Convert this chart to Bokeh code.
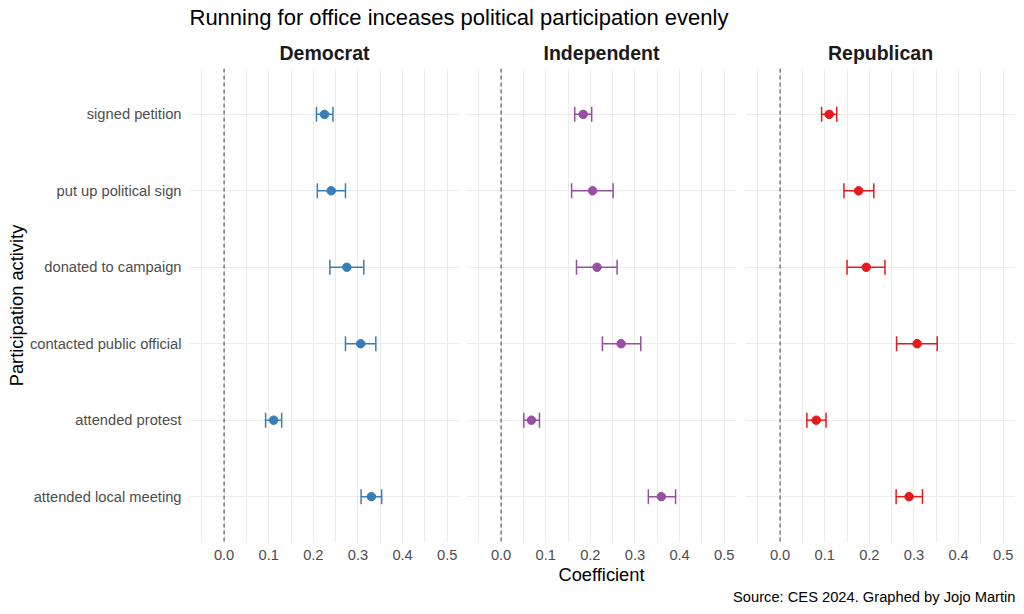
from bokeh.plotting import figure
from bokeh.models import (ColumnDataSource, FactorRange, Range1d, Span, Whisker, TeeHead,
                          SingleIntervalTicker, PrintfTickFormatter, Label)
from bokeh.layouts import column, row
from bokeh.embed import file_html
from bokeh.resources import INLINE

FONT = "Liberation Sans"

activities = ["signed petition", "put up political sign", "donated to campaign",
              "contacted public official", "attended protest", "attended local meeting"]
parties = ["Democrat", "Independent", "Republican"]
colors = ["#377EB8", "#984EA3", "#E41A1C"]

dem_est = [0.225, 0.240, 0.275, 0.306, 0.111, 0.330]
dem_lo = [0.207, 0.209, 0.237, 0.272, 0.093, 0.307]
dem_hi = [0.244, 0.272, 0.313, 0.340, 0.129, 0.353]

ind_est = [0.184, 0.205, 0.215, 0.269, 0.068, 0.359]
ind_lo = [0.165, 0.158, 0.169, 0.227, 0.051, 0.330]
ind_hi = [0.203, 0.251, 0.260, 0.313, 0.086, 0.391]

rep_est = [0.110, 0.176, 0.193, 0.307, 0.081, 0.289]
rep_lo = [0.093, 0.143, 0.150, 0.261, 0.060, 0.260]
rep_hi = [0.127, 0.210, 0.235, 0.352, 0.103, 0.319]

x_limits = (-0.05, 0.5)
title_text = "Running for office inceases political participation evenly"
caption_text = "Source: CES 2024. Graphed by Jojo Martin"
x_title = "Coefficient"
y_title = "Participation activity"

series = [(dem_est, dem_lo, dem_hi), (ind_est, ind_lo, ind_hi), (rep_est, rep_lo, rep_hi)]

span = x_limits[1] - x_limits[0]
xr_start = x_limits[0] - 0.05 * span
xr_end = x_limits[1] + 0.05 * span

FRAME_W = 270
FRAME_H = 474
borders_left = [189, 4, 5]
borders_right = [3, 4, 0]

panels = []
for i, (party, col, (est, lo, hi)) in enumerate(zip(parties, colors, series)):
    src = ColumnDataSource(dict(act=activities, est=est, lo=lo, hi=hi))
    yr = FactorRange(factors=list(reversed(activities)), range_padding=0.1,
                     range_padding_units="absolute")
    p = figure(frame_width=FRAME_W, frame_height=FRAME_H,
               x_range=Range1d(xr_start, xr_end), y_range=yr,
               output_backend="svg", toolbar_location=None, title=party,
               min_border_left=borders_left[i], min_border_right=borders_right[i],
               min_border_top=30, min_border_bottom=46)
    p.title.align = "center"
    p.title.text_font = FONT
    p.title.text_font_size = "19.5px"
    p.title.text_font_style = "bold"
    p.title.text_color = "#1A1A1A"
    p.title.standoff = 9
    p.outline_line_color = None
    p.background_fill_color = "white"
    p.border_fill_color = "white"

    p.xaxis.ticker = SingleIntervalTicker(interval=0.1, num_minor_ticks=2)
    p.xaxis.formatter = PrintfTickFormatter(format="%.1f")
    for ax in p.axis:
        ax.axis_line_color = None
        ax.major_tick_line_color = None
        ax.minor_tick_line_color = None
        ax.major_label_text_font = FONT
        ax.major_label_text_font_size = "14.7px"
        ax.major_label_text_color = "#4D4D4D"
        ax.axis_label_text_font = FONT
        ax.axis_label_text_font_size = "18.3px"
        ax.axis_label_text_font_style = "normal"
        ax.axis_label_text_color = "black"
    p.xaxis.major_label_standoff = 1
    if i == 1:
        p.xaxis.axis_label = x_title
        p.xaxis.axis_label_standoff = 1
    if i == 0:
        p.yaxis.axis_label = y_title
        p.yaxis.axis_label_standoff = 0
        p.yaxis.major_label_standoff = 2
    else:
        p.yaxis.visible = False

    p.xgrid.grid_line_color = "#EBEBEB"
    p.xgrid.grid_line_width = 1
    p.xgrid.minor_grid_line_color = "#EBEBEB"
    p.xgrid.minor_grid_line_width = 1
    p.ygrid.grid_line_color = "#EBEBEB"
    p.ygrid.grid_line_width = 1

    p.add_layout(Span(location=0, dimension="height", line_color="#666666",
                      line_width=1.3, line_dash="4 3"))
    p.add_layout(Whisker(source=src, base="act", lower="lo", upper="hi", dimension="width",
                         line_color=col, line_width=1.5,
                         upper_head=TeeHead(size=15, line_color=col, line_width=1.5),
                         lower_head=TeeHead(size=15, line_color=col, line_width=1.5)))
    p.scatter(x="est", y="act", source=src, size=8.5, fill_color=col, line_color=col)
    panels.append(p)

def text_strip(width, height, label):
    f = figure(width=width, height=height, x_range=Range1d(0, width), y_range=Range1d(0, height),
               output_backend="svg", toolbar_location=None, min_border=0,
               x_axis_location=None, y_axis_location=None)
    f.grid.visible = False
    f.outline_line_color = None
    f.add_layout(label)
    return f

header = text_strip(1016, 35, Label(x=189, y=18, text=title_text, text_font=FONT,
                                    text_font_size="22px", text_color="black",
                                    text_baseline="middle", text_align="left"))
footer = text_strip(1016, 26, Label(x=1015, y=18, text=caption_text, text_font=FONT,
                                    text_font_size="14.7px", text_color="black",
                                    text_baseline="middle", text_align="right"))

layout = column(header, row(*panels), footer)
open("out.html", "w").write(file_html(layout, INLINE))
